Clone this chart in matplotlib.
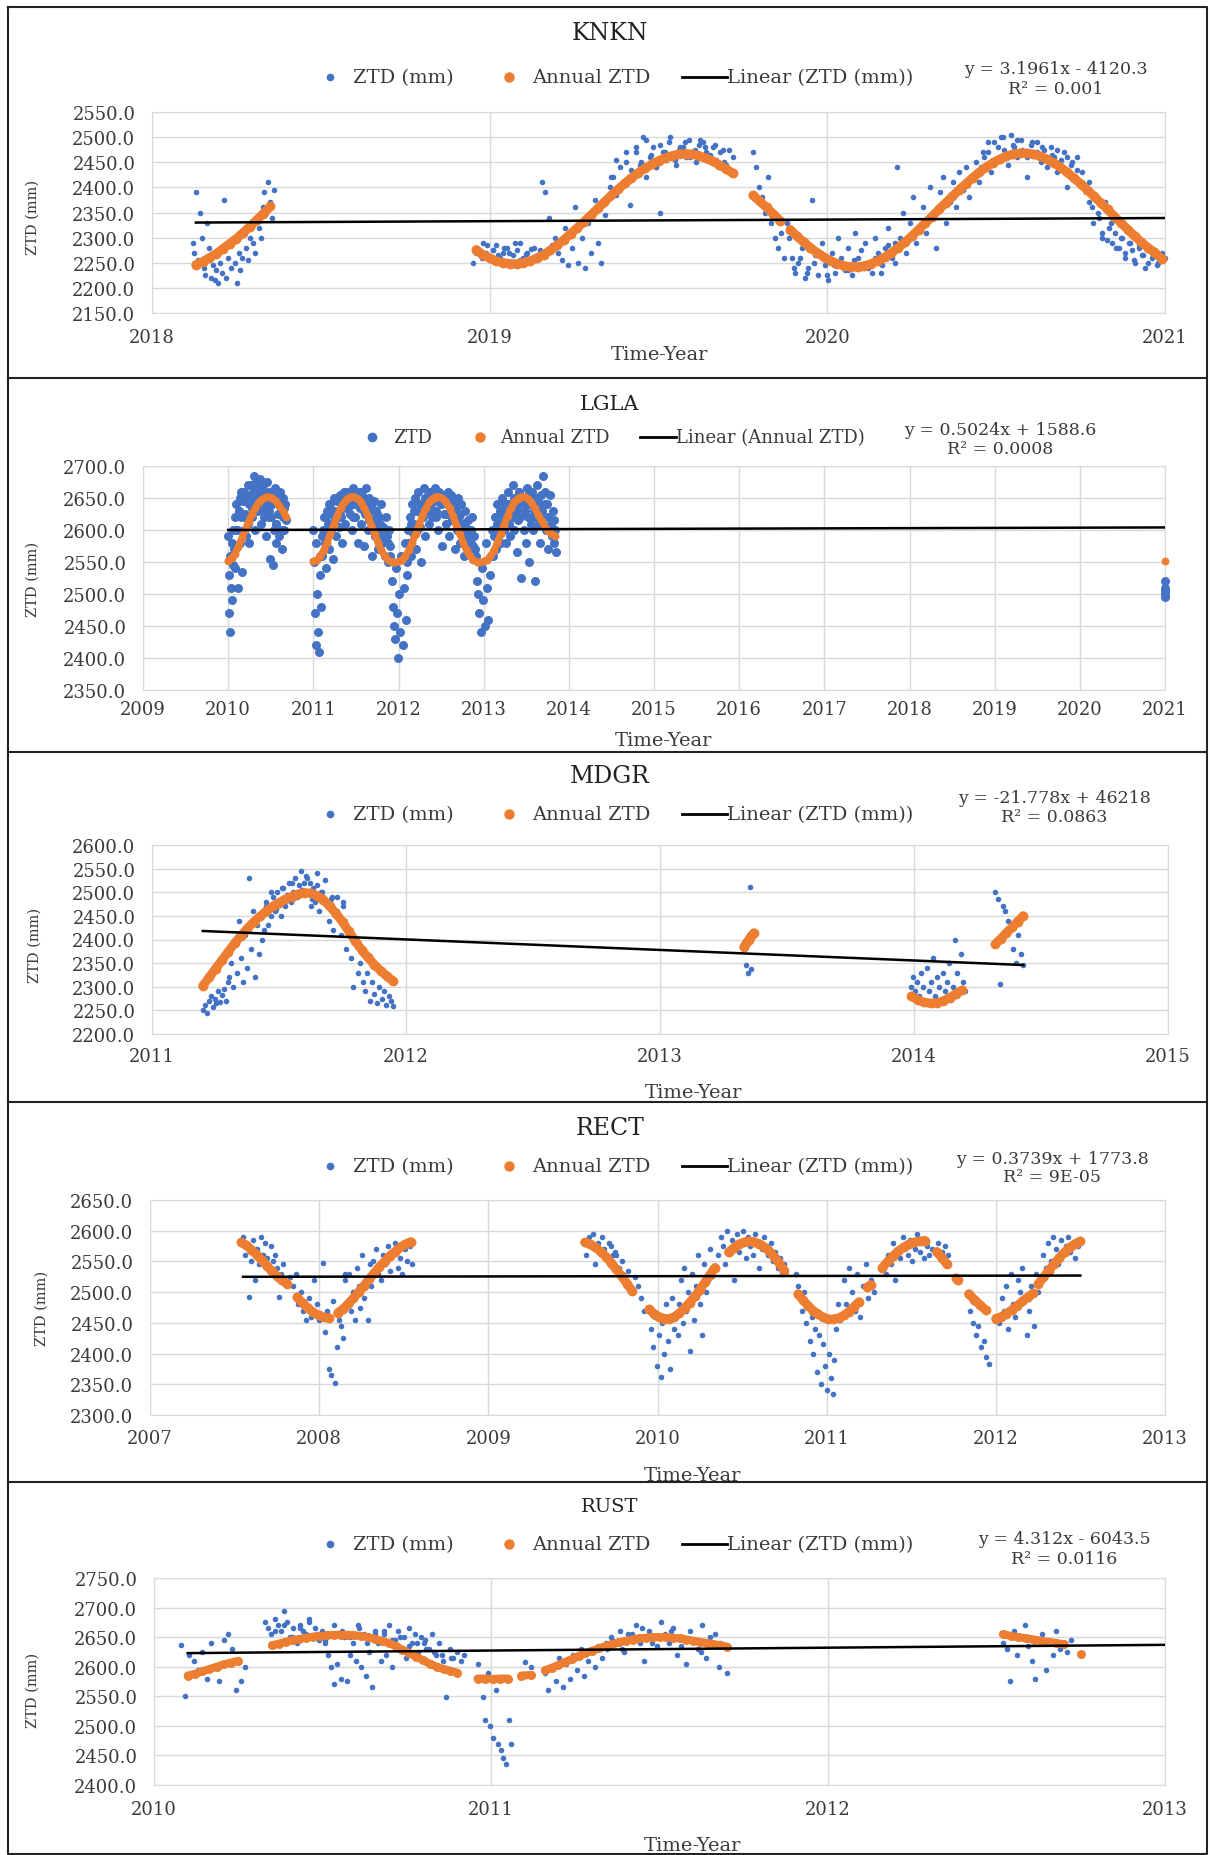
import numpy as np
import matplotlib
matplotlib.use("Agg")
import matplotlib.pyplot as plt
from matplotlib.lines import Line2D
from matplotlib.ticker import FormatStrFormatter

W, H = 1210, 1856
BLUE = "#4472C4"
ORANGE = "#ED7D31"
GRID = "#d9d9d9"
TXT = "#3a3a3a"

plt.rcParams["font.family"] = ["DejaVu Serif"]

# ---- data: each series is a list of (t_start, t_end, values) runs of daily samples ----
# KNKN
kn_ztd = [
    (2018.12, 2018.36, [2290, 2270, 2390, 2255, 2350, 2300, 2240, 2225, 2330, 2280,
                        2220, 2245, 2215, 2235, 2210, 2250, 2230, 2375, 2220, 2260,
                        2290, 2240, 2300, 2250, 2210, 2270, 2235, 2260, 2310, 2280,
                        2255, 2300, 2330, 2290, 2270, 2340, 2320, 2300, 2360, 2390,
                        2350, 2410, 2370, 2340, 2395]),
    (2018.95, 2019.15, [2250, 2280, 2265, 2290, 2270, 2255, 2275, 2285, 2260, 2270, 2280,
                        2250, 2265, 2275, 2290, 2260, 2270, 2255, 2280, 2265, 2275]),
    (2018.96, 2019.14, [2270, 2260, 2285, 2275, 2265, 2280, 2270, 2290, 2255, 2268, 2278, 2262]),
    (2019.155, 2019.35, [2410, 2390, 2340, 2285, 2300, 2270, 2255, 2320, 2245, 2280, 2360,
                         2250, 2300, 2240, 2330, 2270, 2375, 2290, 2250, 2345, 2380]),
    (2019.355, 2019.72, [2400, 2420, 2385, 2440, 2410, 2450, 2365, 2430, 2470, 2445,
                         2500, 2420, 2460, 2480, 2440, 2350, 2470, 2455, 2490, 2465,
                         2445, 2475, 2480, 2460, 2495, 2470, 2450, 2485, 2490, 2470,
                         2460, 2480, 2455, 2440, 2475, 2445, 2430, 2460]),
    (2019.36, 2019.71, [2420, 2455, 2400, 2470, 2435, 2480, 2450, 2495, 2465, 2440, 2485,
                        2470, 2500, 2455, 2480, 2490, 2460, 2475, 2495, 2480, 2465, 2485,
                        2470, 2450, 2475]),
    (2019.78, 2019.88, [2470, 2440, 2400, 2380, 2350, 2420, 2330, 2300, 2280, 2310, 2260, 2330]),
    (2019.885, 2020.2, [2300, 2260, 2230, 2250, 2280, 2220, 2240, 2375, 2265, 2225, 2290,
                        2245, 2215, 2270, 2230, 2300, 2250, 2235, 2280, 2225, 2310, 2260,
                        2240, 2290, 2250, 2230, 2300, 2270, 2245, 2280, 2320, 2260, 2290]),
    (2019.9, 2020.2, [2240, 2260, 2230, 2250, 2270, 2225, 2245, 2260, 2235, 2255, 2275,
                      2240, 2260, 2230, 2285, 2250]),
    (2020.205, 2020.45, [2440, 2300, 2350, 2270, 2330, 2380, 2290, 2320, 2360, 2310, 2400,
                         2345, 2280, 2390, 2420, 2330, 2370, 2410, 2360, 2430, 2395, 2440,
                         2380, 2420, 2450, 2410]),
    (2020.455, 2020.75, [2440, 2460, 2470, 2430, 2490, 2455, 2500, 2475, 2445, 2505, 2480,
                         2460, 2495, 2470, 2420, 2485, 2465, 2490, 2450, 2475, 2440, 2480,
                         2460, 2430, 2455, 2470, 2400, 2445, 2420, 2460, 2410]),
    (2020.46, 2020.74, [2470, 2490, 2455, 2480, 2500, 2465, 2485, 2495, 2475, 2460, 2490,
                        2470, 2480, 2455, 2465, 2475, 2440, 2460, 2450, 2435]),
    (2020.755, 2021.0, [2430, 2390, 2410, 2360, 2380, 2340, 2300, 2370, 2320, 2290, 2310,
                        2280, 2300, 2260, 2290, 2275, 2250, 2285, 2265, 2240, 2280, 2260,
                        2275, 2250, 2270, 2260]),
    (2020.76, 2020.99, [2400, 2370, 2330, 2350, 2310, 2295, 2330, 2280, 2300, 2270, 2290,
                        2255, 2280, 2265, 2250, 2270, 2245, 2260]),
]
kn_annual = [
    (2018.13, 2018.35, [2246, 2252, 2260, 2268, 2278, 2288, 2298, 2310, 2322, 2335, 2348, 2362]),
    (2018.96, 2019.72, [2276, 2266, 2259, 2253, 2250, 2248, 2248, 2250, 2254, 2259, 2266,
                        2275, 2285, 2296, 2308, 2320, 2332, 2345, 2358, 2371, 2384, 2396,
                        2408, 2419, 2429, 2438, 2446, 2453, 2459, 2463, 2466, 2467, 2466,
                        2463, 2458, 2452, 2445, 2437, 2428]),
    (2019.78, 2019.86, [2384, 2372, 2360, 2347, 2334]),
    (2019.89, 2020.99, [2316, 2303, 2291, 2280, 2270, 2261, 2254, 2248, 2244, 2242, 2242,
                        2244, 2248, 2254, 2261, 2270, 2280, 2291, 2303, 2316, 2329, 2342,
                        2356, 2369, 2382, 2395, 2407, 2419, 2430, 2440, 2449, 2456, 2462,
                        2466, 2468, 2468, 2466, 2462, 2456, 2449, 2440, 2430, 2419, 2407,
                        2395, 2382, 2369, 2356, 2342, 2329, 2316, 2303, 2291, 2280, 2270,
                        2258]),
]
kn_trend_t = [2018.13, 2021.0]
kn_trend_v = [2330, 2339]

# LGLA
lg_ztd = [
    (2010.0, 2010.06, [2590, 2530, 2470, 2560, 2440, 2510, 2580, 2490, 2600, 2545]),
    (2010.065, 2010.25, [2570, 2620, 2540, 2640, 2600, 2510, 2630, 2580, 2650, 2620,
                         2535, 2645, 2600, 2660, 2625, 2590, 2655, 2610, 2640, 2580]),
    (2010.255, 2010.48, [2650, 2670, 2620, 2660, 2685, 2640, 2600, 2675, 2655, 2630, 2665,
                         2680, 2610, 2650, 2670, 2640, 2620, 2660, 2590, 2675, 2645, 2630]),
    (2010.485, 2010.68, [2660, 2555, 2620, 2640, 2545, 2600, 2665, 2610, 2580, 2650,
                         2625, 2590, 2660, 2635, 2570, 2620, 2650, 2600, 2640, 2615]),
    (2010.1, 2010.66, [2600, 2630, 2660, 2645, 2620, 2670, 2650, 2635, 2665, 2655, 2640,
                       2675, 2660, 2630, 2650, 2620, 2640, 2660, 2610, 2645, 2625, 2600, 2635]),
    (2011.0, 2011.1, [2600, 2550, 2470, 2420, 2580, 2500, 2440, 2410, 2530, 2560, 2480, 2590]),
    (2011.105, 2011.4, [2560, 2600, 2620, 2580, 2540, 2630, 2610, 2570, 2640, 2600, 2625,
                        2555, 2650, 2615, 2590, 2645, 2630, 2605, 2655, 2620, 2580, 2640,
                        2660, 2610, 2635, 2650]),
    (2011.405, 2011.9, [2640, 2660, 2625, 2655, 2600, 2665, 2640, 2620, 2650, 2580,
                        2660, 2635, 2610, 2655, 2645, 2575, 2625, 2665, 2640, 2600,
                        2650, 2630, 2560, 2615, 2645, 2590, 2630, 2610, 2570, 2620,
                        2595, 2640, 2580, 2605, 2560, 2620, 2590, 2550, 2600, 2575]),
    (2011.12, 2011.88, [2600, 2620, 2640, 2610, 2630, 2650, 2625, 2645, 2660, 2635, 2655,
                        2620, 2650, 2640, 2660, 2630, 2645, 2615, 2635, 2600, 2625, 2610,
                        2590, 2600, 2580]),
    (2011.905, 2012.1, [2560, 2520, 2480, 2450, 2430, 2540, 2470, 2400, 2500, 2440,
                        2560, 2420, 2510, 2580, 2460, 2530]),
    (2012.105, 2012.4, [2550, 2600, 2580, 2620, 2560, 2640, 2595, 2610, 2650, 2570, 2630,
                        2660, 2605, 2550, 2640, 2620, 2665, 2590, 2645, 2630, 2655, 2610,
                        2660, 2640, 2620, 2650]),
    (2012.405, 2012.9, [2655, 2630, 2665, 2620, 2645, 2600, 2660, 2640, 2575, 2655,
                        2625, 2650, 2610, 2640, 2660, 2590, 2630, 2655, 2615, 2645,
                        2570, 2635, 2600, 2650, 2620, 2580, 2640, 2610, 2600, 2560,
                        2630, 2590, 2615, 2570, 2600, 2580, 2620, 2555, 2590, 2570]),
    (2012.12, 2012.88, [2580, 2610, 2630, 2600, 2640, 2625, 2650, 2635, 2660, 2645, 2630,
                        2655, 2640, 2650, 2625, 2645, 2615, 2635, 2605, 2625, 2595, 2610,
                        2585, 2600, 2575]),
    (2012.905, 2013.1, [2560, 2520, 2500, 2470, 2440, 2540, 2490, 2450, 2580, 2510,
                        2460, 2530, 2560, 2600]),
    (2013.105, 2013.4, [2560, 2600, 2620, 2570, 2640, 2590, 2610, 2630, 2580, 2650, 2620,
                        2600, 2640, 2580, 2625, 2660, 2610, 2590, 2635, 2620, 2670, 2600,
                        2645, 2630, 2565, 2615]),
    (2013.405, 2013.85, [2640, 2660, 2620, 2525, 2650, 2600, 2640, 2580, 2665, 2620,
                         2550, 2640, 2610, 2660, 2600, 2630, 2520, 2670, 2645, 2610,
                         2580, 2655, 2630, 2685, 2620, 2660, 2600, 2640, 2570, 2655,
                         2610, 2590, 2630, 2580, 2600, 2565]),
    (2013.12, 2013.82, [2590, 2610, 2600, 2630, 2615, 2640, 2625, 2650, 2635, 2660, 2645,
                        2630, 2655, 2640, 2620, 2650, 2635, 2610, 2640, 2620, 2600, 2615]),
    (2020.995, 2021.0, [2520, 2510, 2500, 2495, 2505]),
]
lg_annual = [
    (2010.0, 2010.68, [2552, 2556, 2563, 2574, 2587, 2600, 2613, 2625, 2635, 2643, 2648,
                       2651, 2652, 2650, 2645, 2638, 2630, 2621]),
    (2011.0, 2011.96, [2551, 2553, 2559, 2568, 2580, 2594, 2608, 2622, 2634, 2643, 2649, 2652,
                       2652, 2649, 2643, 2634, 2622, 2608, 2594, 2580, 2568, 2559, 2553, 2550,
                       2550]),
    (2012.0, 2012.96, [2551, 2553, 2559, 2568, 2580, 2594, 2608, 2622, 2634, 2643, 2649, 2652,
                       2652, 2649, 2643, 2634, 2622, 2608, 2594, 2580, 2568, 2559, 2553, 2550,
                       2550]),
    (2013.0, 2013.84, [2551, 2553, 2559, 2568, 2580, 2594, 2608, 2622, 2634, 2643, 2649, 2652,
                       2652, 2649, 2643, 2634, 2624, 2614, 2605, 2598, 2593, 2590]),
    (2021.0, 2021.0, [2551]),
]
lg_trend_t = [2010.0, 2021.0]
lg_trend_v = [2600, 2604]

# MDGR
md_ztd = [
    (2011.2, 2011.3, [2250, 2262, 2245, 2270, 2280, 2258, 2275, 2265, 2290, 2268, 2282, 2295,
                      2270, 2310]),
    (2011.305, 2011.45, [2320, 2350, 2300, 2390, 2330, 2440, 2360, 2310, 2410, 2340,
                         2530, 2380, 2460, 2320, 2430, 2370, 2450, 2400, 2420, 2470]),
    (2011.455, 2011.6, [2430, 2470, 2450, 2490, 2460, 2500, 2480, 2450, 2510, 2470,
                        2495, 2520, 2480, 2500, 2530, 2490, 2515, 2545, 2505, 2520]),
    (2011.45, 2011.75, [2480, 2500, 2465, 2510, 2490, 2520, 2495, 2505, 2530, 2485, 2515,
                        2500, 2475, 2490, 2460, 2480]),
    (2011.605, 2011.75, [2535, 2500, 2520, 2470, 2510, 2480, 2540, 2460, 2500, 2490,
                         2525, 2470, 2440, 2485, 2420, 2460, 2490, 2450, 2410, 2470]),
    (2011.755, 2011.95, [2440, 2380, 2420, 2360, 2300, 2400, 2330, 2350, 2310, 2290, 2330,
                         2270, 2310, 2285, 2265, 2300, 2275, 2290, 2262, 2280, 2270, 2260]),
    (2013.34, 2013.36, [2345, 2330, 2512, 2338]),
    (2013.99, 2014.2, [2300, 2320, 2290, 2310, 2280, 2330, 2300, 2270, 2340, 2290, 2310,
                       2360, 2280, 2320, 2300, 2270, 2330, 2290, 2310, 2350, 2280, 2300,
                       2400, 2330, 2290, 2370, 2310, 2290]),
    (2014.32, 2014.43, [2500, 2485, 2305, 2470, 2460, 2440, 2430, 2380, 2350, 2410, 2370, 2345]),
]
md_annual = [
    (2011.2, 2011.95, [2302, 2320, 2338, 2356, 2374, 2392, 2408, 2423, 2437, 2449, 2460,
                       2470, 2478, 2485, 2491, 2496, 2499, 2498, 2493, 2484, 2470, 2455,
                       2437, 2417, 2397, 2378, 2362, 2347, 2334, 2322, 2312]),
    (2013.33, 2013.37, [2384, 2392, 2400, 2408, 2414]),
    (2013.99, 2014.19, [2280, 2272, 2267, 2265, 2266, 2270, 2277, 2285, 2293]),
    (2014.32, 2014.43, [2390, 2402, 2414, 2426, 2438, 2450]),
]
md_trend_t = [2011.2, 2014.43]
md_trend_v = [2418, 2346]

# RECT
re_ztd = [
    (2007.55, 2007.8, [2590, 2560, 2575, 2492, 2550, 2585, 2520, 2570, 2545, 2590, 2560,
                       2580, 2555, 2535, 2575, 2550, 2560, 2540, 2492, 2530, 2545, 2520]),
    (2007.83, 2008.0, [2525, 2510, 2530, 2480, 2500, 2470, 2455, 2490, 2460, 2520, 2480, 2455]),
    (2008.02, 2008.15, [2548, 2435, 2470, 2375, 2365, 2485, 2352, 2410, 2455, 2445, 2425, 2530]),
    (2008.155, 2008.3, [2520, 2480, 2530, 2470, 2500, 2455, 2540, 2510, 2475, 2560, 2490,
                        2520, 2455, 2545]),
    (2008.305, 2008.55, [2510, 2550, 2570, 2530, 2520, 2560, 2545, 2575, 2535, 2565, 2580,
                         2540, 2555, 2530, 2570, 2550, 2575, 2545]),
    (2009.58, 2009.75, [2560, 2590, 2575, 2595, 2545, 2580, 2565, 2590, 2570, 2555, 2580,
                        2575, 2560, 2565]),
    (2009.755, 2009.92, [2560, 2540, 2550, 2520, 2535, 2500, 2525, 2510, 2490, 2470]),
    (2009.95, 2010.12, [2470, 2440, 2410, 2460, 2380, 2430, 2362, 2450, 2400, 2480, 2420,
                        2375, 2490, 2440, 2460, 2430]),
    (2010.125, 2010.32, [2480, 2520, 2450, 2540, 2470, 2500, 2405, 2530, 2455, 2510, 2560,
                         2480, 2430, 2545, 2500, 2520, 2570, 2540]),
    (2010.36, 2010.75, [2560, 2590, 2575, 2545, 2600, 2570, 2585, 2520, 2595, 2565, 2580,
                        2600, 2555, 2590, 2575, 2560, 2595, 2580, 2540, 2570, 2590, 2575,
                        2560, 2580, 2550, 2565, 2540, 2555, 2530, 2545]),
    (2010.82, 2011.08, [2530, 2510, 2490, 2470, 2500, 2450, 2480, 2420, 2460, 2400, 2440,
                        2370, 2430, 2350, 2415, 2380, 2340, 2400, 2360, 2335, 2390, 2440,
                        2480, 2455]),
    (2011.1, 2011.28, [2520, 2480, 2540, 2500, 2470, 2530, 2460, 2510, 2545, 2490, 2520, 2500]),
    (2011.35, 2011.62, [2530, 2560, 2545, 2580, 2520, 2570, 2555, 2590, 2575, 2560, 2585,
                        2550, 2570, 2595, 2565, 2580, 2555, 2575, 2560, 2570]),
    (2011.66, 2011.72, [2580, 2565, 2575, 2560]),
    (2011.85, 2011.96, [2470, 2450, 2430, 2445, 2410, 2420, 2395, 2383]),
    (2012.02, 2012.25, [2450, 2490, 2470, 2510, 2440, 2530, 2480, 2460, 2520, 2500, 2540,
                        2490, 2430, 2470, 2510, 2445, 2530, 2500]),
    (2012.28, 2012.5, [2560, 2540, 2580, 2550, 2590, 2570, 2545, 2585, 2560, 2575, 2590,
                       2565, 2580, 2555, 2575, 2585]),
]
re_annual = [
    (2007.54, 2007.81, [2581, 2576, 2569, 2561, 2552, 2543, 2534, 2526, 2519, 2514]),
    (2007.87, 2008.06, [2492, 2482, 2474, 2467, 2462, 2459, 2458]),
    (2008.11, 2008.54, [2466, 2473, 2481, 2490, 2500, 2510, 2521, 2531, 2541, 2550, 2559,
                        2566, 2573, 2578, 2582]),
    (2009.57, 2009.85, [2581, 2578, 2573, 2566, 2558, 2548, 2537, 2526, 2514, 2502]),
    (2009.95, 2010.34, [2472, 2465, 2460, 2457, 2457, 2460, 2466, 2474, 2483, 2493, 2504,
                        2516, 2528, 2540]),
    (2010.42, 2010.75, [2565, 2572, 2578, 2581, 2583, 2582, 2579, 2574, 2567, 2558, 2547, 2535]),
    (2010.83, 2011.19, [2497, 2487, 2478, 2470, 2464, 2459, 2456, 2456, 2458, 2462, 2468,
                        2476, 2484]),
    (2011.24, 2011.26, [2508, 2512]),
    (2011.33, 2011.58, [2540, 2550, 2559, 2567, 2573, 2578, 2581, 2583, 2584]),
    (2011.65, 2011.71, [2566, 2556, 2546]),
    (2011.765, 2011.775, [2523, 2519]),
    (2011.84, 2011.94, [2497, 2488, 2479, 2471]),
    (2012.0, 2012.22, [2457, 2460, 2465, 2471, 2478, 2485, 2492, 2498]),
    (2012.25, 2012.5, [2513, 2524, 2535, 2546, 2556, 2565, 2573, 2579, 2583]),
]
re_trend_t = [2007.55, 2012.5]
re_trend_v = [2525, 2527]

# RUST
ru_ztd = [
    (2010.08, 2010.27, [2637, 2550, 2620, 2610, 2595, 2625, 2580, 2640, 2600, 2575, 2645,
                        2655, 2630, 2560, 2575, 2600]),
    (2010.33, 2010.6, [2675, 2665, 2655, 2680, 2670, 2660, 2695, 2675, 2650, 2665, 2640,
                       2670, 2660, 2655, 2680, 2650, 2665, 2645, 2660, 2640, 2620, 2600,
                       2570, 2605, 2580, 2650, 2575, 2620, 2640, 2610]),
    (2010.36, 2010.88, [2660, 2670, 2650, 2665, 2675, 2655, 2645, 2670, 2660, 2650, 2665,
                        2640, 2655, 2660, 2645, 2650, 2635, 2640, 2630, 2625, 2620, 2615]),
    (2010.605, 2010.8, [2670, 2600, 2655, 2585, 2625, 2565, 2660, 2640, 2610, 2655, 2620,
                        2670, 2600, 2645, 2660, 2630, 2650, 2615, 2665, 2640, 2655, 2625,
                        2650, 2640]),
    (2010.805, 2010.92, [2645, 2630, 2655, 2620, 2640, 2610, 2548, 2630, 2615, 2625, 2610, 2620]),
    (2010.96, 2011.06, [2605, 2580, 2548, 2510, 2590, 2500, 2480, 2560, 2470, 2460, 2445,
                        2435, 2510, 2470]),
    (2011.1, 2011.12, [2608, 2600]),
    (2011.16, 2011.34, [2590, 2560, 2600, 2575, 2615, 2565, 2605, 2580, 2620, 2595, 2630,
                        2585, 2610, 2625, 2600, 2635, 2615, 2640]),
    (2011.345, 2011.7, [2630, 2650, 2640, 2660, 2625, 2655, 2645, 2670, 2640, 2610, 2660,
                        2650, 2635, 2675, 2655, 2640, 2665, 2620, 2650, 2605, 2660, 2645,
                        2630, 2670, 2615, 2640, 2655, 2600, 2635, 2590]),
    (2011.36, 2011.68, [2645, 2630, 2655, 2665, 2640, 2650, 2660, 2635, 2645, 2625, 2650, 2640]),
    (2012.52, 2012.72, [2640, 2630, 2575, 2660, 2620, 2650, 2670, 2635, 2610, 2580, 2645,
                        2655, 2595, 2640, 2620, 2660, 2630, 2640, 2625, 2645]),
]
ru_annual = [
    (2010.1, 2010.25, [2585, 2588, 2592, 2596, 2600, 2604, 2607, 2610]),
    (2010.35, 2010.9, [2636, 2639, 2642, 2645, 2647, 2649, 2651, 2652, 2653, 2654, 2654,
                       2654, 2653, 2652, 2650, 2647, 2644, 2640, 2635, 2629, 2623, 2617,
                       2611, 2605, 2600, 2596, 2593, 2590]),
    (2010.96, 2011.05, [2580, 2580, 2579, 2580, 2580]),
    (2011.09, 2011.12, [2585, 2586]),
    (2011.16, 2011.7, [2594, 2598, 2603, 2608, 2613, 2618, 2623, 2627, 2631, 2635, 2638,
                       2641, 2644, 2646, 2648, 2649, 2650, 2650, 2650, 2649, 2648, 2646,
                       2644, 2642, 2640, 2638, 2636, 2634]),
    (2012.52, 2012.7, [2655, 2652, 2650, 2648, 2646, 2644, 2642, 2640, 2638]),
    (2012.75, 2012.75, [2622]),
]
ru_trend_t = [2010.1, 2013.0]
ru_trend_v = [2623, 2637]


def expand(segs):
    ts, vs = [], []
    for t0, t1, vals in segs:
        ts.append(np.linspace(t0, t1, len(vals)))
        vs.append(np.asarray(vals, dtype=float))
    return np.concatenate(ts), np.concatenate(vs)


def fx(x):
    return x / W


def fy(y):
    return 1 - y / H


fig = plt.figure(figsize=(W / 100, H / 100), dpi=100, facecolor="white")

# panel layout in pixels: (left, top, right, bottom)
panels = [
    dict(name="KNKN", ztd=kn_ztd, ann=kn_annual, tt=kn_trend_t, tv=kn_trend_v,
         box=(152, 113, 1165, 314), xr=(2018, 2021), yr=(2150, 2550),
         title_y=33, title_fs=17, leg_y=78, eq_x=1056, eq_y=70,
         eq="y = 3.1961x - 4120.3", r2="R\u00b2 = 0.001", ztd_lab="ZTD (mm)",
         lin_lab="Linear (ZTD (mm))", xl=(659, 355), yl=(33, 217), pad=11,
         bs=16, os=50, olw=6.5, leg=(330, 353, 509, 532, 682, 727), leg_fs=14),
    dict(name="LGLA", ztd=lg_ztd, ann=lg_annual, tt=lg_trend_t, tv=lg_trend_v,
         box=(143, 467, 1165, 691), xr=(2009, 2021), yr=(2350, 2700),
         title_y=405, title_fs=15, leg_y=438, eq_x=1000, eq_y=431,
         eq="y = 0.5024x + 1588.6", r2="R\u00b2 = 0.0008", ztd_lab="ZTD",
         lin_lab="Linear (Annual ZTD)", xl=(663, 741), yl=(33, 579), pad=7,
         bs=42, os=32, olw=5.0, leg=(372, 393, 480, 500, 640, 676), leg_fs=13),
    dict(name="MDGR", ztd=md_ztd, ann=md_annual, tt=md_trend_t, tv=md_trend_v,
         box=(152, 846, 1168, 1035), xr=(2011, 2015), yr=(2200, 2600),
         title_y=777, title_fs=17, leg_y=815, eq_x=1054, eq_y=799,
         eq="y = -21.778x + 46218", r2="R\u00b2 = 0.0863", ztd_lab="ZTD (mm)",
         lin_lab="Linear (ZTD (mm))", xl=(693, 1093), yl=(35, 945), pad=9,
         bs=16, os=50, olw=6.5, leg=(330, 353, 509, 532, 682, 727), leg_fs=14),
    dict(name="RECT", ztd=re_ztd, ann=re_annual, tt=re_trend_t, tv=re_trend_v,
         box=(150, 1201, 1165, 1416), xr=(2007, 2013), yr=(2300, 2650),
         title_y=1129, title_fs=17, leg_y=1167, eq_x=1052, eq_y=1159,
         eq="y = 0.3739x + 1773.8", r2="R\u00b2 = 9E-05", ztd_lab="ZTD (mm)",
         lin_lab="Linear (ZTD (mm))", xl=(692, 1476), yl=(42, 1308), pad=10,
         bs=16, os=50, olw=6.5, leg=(330, 353, 509, 532, 682, 727), leg_fs=14),
    dict(name="RUST", ztd=ru_ztd, ann=ru_annual, tt=ru_trend_t, tv=ru_trend_v,
         box=(154, 1579, 1165, 1786), xr=(2010, 2013), yr=(2400, 2750),
         title_y=1507, title_fs=14, leg_y=1545, eq_x=1064, eq_y=1540,
         eq="y = 4.312x - 6043.5", r2="R\u00b2 = 0.0116", ztd_lab="ZTD (mm)",
         lin_lab="Linear (ZTD (mm))", xl=(692, 1846), yl=(33, 1690), pad=11,
         bs=16, os=42, olw=5.8, leg=(330, 353, 509, 532, 682, 727), leg_fs=14),
]

for p in panels:
    l, t, r, b = p["box"]
    ax = fig.add_axes([fx(l), fy(b), (r - l) / W, (b - t) / H])
    x0, x1 = p["xr"]
    y0, y1 = p["yr"]
    ax.set_xlim(x0, x1)
    ax.set_ylim(y0, y1)
    ax.set_xticks(np.arange(x0, x1 + 1))
    ax.set_yticks(np.arange(y0, y1 + 1, 50))
    ax.yaxis.set_major_formatter(FormatStrFormatter("%.1f"))
    ax.grid(True, color=GRID, lw=1)
    ax.set_axisbelow(True)
    ax.tick_params(axis="x", length=0, labelsize=13, colors=TXT, pad=p["pad"])
    ax.tick_params(axis="y", length=0, labelsize=13, colors=TXT, pad=12)
    for s in ax.spines.values():
        s.set_color(GRID)

    t_z, v_z = expand(p["ztd"])
    t_a, v_a = expand(p["ann"])
    ax.scatter(t_z, v_z, s=p["bs"], color=BLUE, linewidths=0, zorder=3, clip_on=False)
    # the daily annual-model points sit so close together that they merge into a band
    for t0, t1, vals in p["ann"]:
        ax.plot(np.linspace(t0, t1, len(vals)), vals, color=ORANGE, lw=p["olw"],
                solid_capstyle="round", zorder=4)
    ax.scatter(t_a, v_a, s=p["os"], color=ORANGE, linewidths=0, zorder=4, clip_on=False)
    ax.plot(p["tt"], p["tv"], color="black", lw=1.8, zorder=5)

    fig.text(fx(610), fy(p["title_y"]), p["name"], ha="center", va="center",
             fontsize=p["title_fs"], color="#222222")
    fig.text(fx(p["xl"][0]), fy(p["xl"][1]), "Time-Year", ha="center", va="center",
             fontsize=14, color=TXT)
    fig.text(fx(p["yl"][0]), fy(p["yl"][1]), "ZTD (mm)", ha="center", va="center",
             rotation=90, fontsize=10.5, color=TXT)

    # legend
    bx, btx, ox, otx, lx0, lx1 = p["leg"]
    ly = fy(p["leg_y"])
    bms = 4.5 if p["bs"] < 20 else 6
    fig.add_artist(Line2D([fx(bx)], [ly], marker="o", ms=bms, color=BLUE, lw=0,
                          transform=fig.transFigure))
    fig.add_artist(Line2D([fx(ox)], [ly], marker="o", ms=6.5, color=ORANGE, lw=0,
                          transform=fig.transFigure))
    fig.add_artist(Line2D([fx(lx0), fx(lx1)], [ly, ly], color="black", lw=2,
                          transform=fig.transFigure))
    fig.text(fx(btx), ly, p["ztd_lab"], ha="left", va="center", fontsize=p["leg_fs"], color=TXT)
    fig.text(fx(otx), ly, "Annual ZTD", ha="left", va="center", fontsize=p["leg_fs"], color=TXT)
    fig.text(fx(lx1), ly, p["lin_lab"], ha="left", va="center", fontsize=p["leg_fs"], color=TXT)

    fig.text(fx(p["eq_x"]), fy(p["eq_y"]), p["eq"], ha="center", va="center",
             fontsize=12.5, color=TXT)
    fig.text(fx(p["eq_x"]), fy(p["eq_y"] + 19), p["r2"], ha="center", va="center",
             fontsize=12.5, color=TXT)

# panel frames
frame = dict(color="#222222", lw=1.5, transform=fig.transFigure)
fig.add_artist(Line2D([fx(8), fx(1207), fx(1207), fx(8), fx(8)],
                      [fy(8), fy(8), fy(1855), fy(1855), fy(8)], **frame))
for yy in [379, 753, 1103, 1483]:
    fig.add_artist(Line2D([fx(8), fx(1207)], [fy(yy), fy(yy)], **frame))

fig.savefig("out.png", dpi=100, facecolor="white")
